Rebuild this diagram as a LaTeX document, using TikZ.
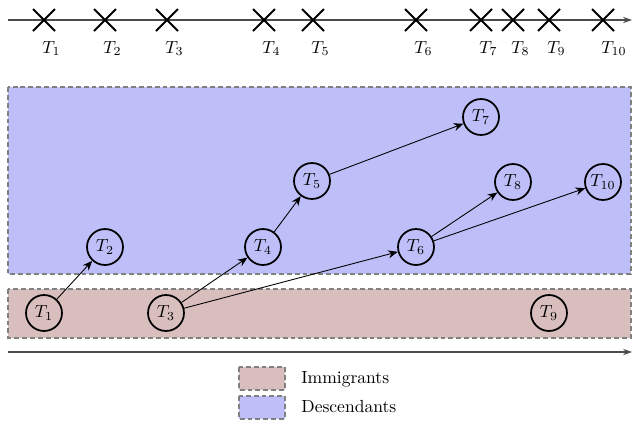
\documentclass[tikz,border=0pt]{standalone}
\usetikzlibrary{arrows.meta}
\definecolor{desc}{RGB}{190,190,248}
\definecolor{immi}{RGB}{217,190,190}
\begin{document}
\begin{tikzpicture}[x=0.57pt,y=-0.57pt,
  tnode/.style={circle,draw=black,line width=1pt,minimum size=20.5pt,inner sep=0pt},
  cross/.style={line width=1.2pt,black},
  region/.style={draw=black!50,dash pattern=on 2.8pt off 1.7pt,line width=0.85pt},
  edge/.style={-{Stealth[length=5.5pt,width=4.5pt]},line width=0.5pt},
  axis/.style={-{Stealth[length=5pt,width=3.5pt]},draw=black!70,line width=1pt},
  tlabel/.style={anchor=base west,inner sep=0pt}]
\useasboundingbox (0,0) rectangle (632,425);
% timeline
\coordinate (tlS) at (8,20);
\coordinate (tlE) at (632,20);
\draw[axis] (tlS) -- (tlE);
\foreach \x/\i in {44/1,105/2,167/3,264/4,313/5,416/6,481/7,513/8,549/9,603/10}{
  \draw[cross] (\x-11,9) -- (\x+11,31) (\x-11,31) -- (\x+11,9);
  \node[tlabel] (lab\i) at (\x-2,53) {$T_{\i}$};
}
% regions
\fill[desc] (8,87) rectangle (631,274);
\draw[region] (8,87) rectangle (631,274);
\fill[immi] (8,289) rectangle (631,338);
\draw[region] (8,289) rectangle (631,338);
% nodes
\node[tnode] (T1) at (44,313) {$T_1$};
\node[tnode] (T2) at (105,247) {$T_2$};
\node[tnode] (T3) at (166,313) {$T_3$};
\node[tnode] (T4) at (263,247) {$T_4$};
\node[tnode] (T5) at (312,181) {$T_5$};
\node[tnode] (T6) at (416,247) {$T_6$};
\node[tnode] (T7) at (481,117) {$T_7$};
\node[tnode] (T8) at (513,182) {$T_8$};
\node[tnode] (T9) at (549,313) {$T_9$};
\node[tnode] (T10) at (603,182) {$T_{10}$};
\draw[edge] (T1) -- (T2);
\draw[edge] (T3) -- (T4);
\draw[edge] (T3) -- (T6);
\draw[edge] (T4) -- (T5);
\draw[edge] (T5) -- (T7);
\draw[edge] (T6) -- (T8);
\draw[edge] (T6) -- (T10);
% bottom axis
\coordinate (axS) at (8,352);
\coordinate (axE) at (632,352);
\draw[axis] (axS) -- (axE);
% legend
\fill[immi] (239,367) rectangle (285,390);
\draw[region] (239,367) rectangle (285,390);
\fill[desc] (239,396) rectangle (285,419);
\draw[region] (239,396) rectangle (285,419);
\node[tlabel] (legI) at (301,383) {Immigrants};
\node[tlabel] (legD) at (301,412) {Descendants};
\end{tikzpicture}
\end{document}
